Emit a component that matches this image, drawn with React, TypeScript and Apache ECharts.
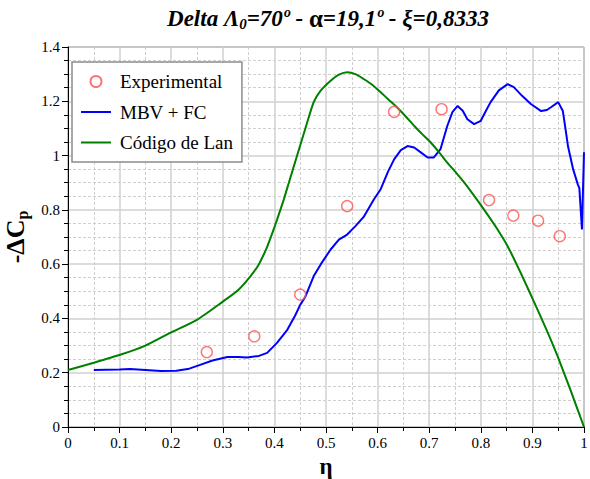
import React, { useEffect, useRef } from 'react';
import * as echarts from 'echarts';

const FONT = "'Liberation Serif', 'DejaVu Serif', serif";

// Experimental points
const expEta = [0.269, 0.361, 0.45, 0.541, 0.632, 0.724, 0.816, 0.863, 0.911, 0.953];
const expCp = [0.276, 0.334, 0.488, 0.814, 1.161, 1.171, 0.836, 0.779, 0.76, 0.703];

// MBV + FC
const mbvEta = [0.05, 0.1, 0.12, 0.15, 0.18, 0.21, 0.235, 0.256, 0.28, 0.309, 0.33, 0.347, 0.37, 0.386, 0.405, 0.425, 0.44, 0.45, 0.46, 0.476, 0.49, 0.509, 0.525, 0.541, 0.557, 0.573, 0.593, 0.606, 0.62, 0.632, 0.645, 0.658, 0.671, 0.685, 0.697, 0.709, 0.722, 0.735, 0.745, 0.755, 0.765, 0.774, 0.787, 0.8, 0.81, 0.819, 0.835, 0.852, 0.864, 0.88, 0.897, 0.917, 0.928, 0.936, 0.95, 0.959, 0.964, 0.969, 0.979, 0.988, 0.991, 0.996, 1.0];
const mbvCp = [0.21, 0.212, 0.214, 0.21, 0.206, 0.207, 0.215, 0.229, 0.245, 0.258, 0.258, 0.256, 0.262, 0.273, 0.31, 0.358, 0.41, 0.45, 0.48, 0.555, 0.6, 0.654, 0.69, 0.709, 0.74, 0.774, 0.839, 0.876, 0.94, 0.986, 1.02, 1.035, 1.03, 1.01, 0.993, 0.993, 1.024, 1.109, 1.16, 1.183, 1.165, 1.134, 1.116, 1.128, 1.165, 1.197, 1.24, 1.263, 1.252, 1.22, 1.19, 1.164, 1.168, 1.178, 1.197, 1.164, 1.1, 1.034, 0.949, 0.894, 0.88, 0.728, 1.012];

// Código de Lan
const lanEta = [0, 0.05, 0.101, 0.15, 0.198, 0.25, 0.3, 0.33, 0.353, 0.37, 0.386, 0.397, 0.405, 0.418, 0.428, 0.444, 0.46, 0.476, 0.49, 0.509, 0.525, 0.541, 0.557, 0.573, 0.59, 0.606, 0.622, 0.638, 0.655, 0.671, 0.687, 0.703, 0.72, 0.735, 0.752, 0.768, 0.784, 0.806, 0.83, 0.852, 0.878, 0.904, 0.927, 0.949, 0.975, 1.0];
const lanCp = [0.21, 0.237, 0.266, 0.3, 0.347, 0.395, 0.462, 0.505, 0.554, 0.6, 0.664, 0.72, 0.763, 0.837, 0.9, 1.0, 1.1, 1.196, 1.24, 1.276, 1.298, 1.307, 1.3, 1.282, 1.26, 1.233, 1.205, 1.177, 1.143, 1.109, 1.078, 1.048, 1.01, 0.974, 0.937, 0.9, 0.86, 0.802, 0.735, 0.666, 0.565, 0.457, 0.36, 0.26, 0.13, 0.0];

const seriesNames = ['Experimental', 'MBV + FC', 'Código de Lan'];

const zip = (a: number[], b: number[]) => a.map((v, i) => [v, b[i]]);

export default function App() {
  const ref = useRef<HTMLDivElement>(null);
  useEffect(() => {
    if (!ref.current) return;
    const chart = echarts.init(ref.current, null, { renderer: 'svg' });
    const axisCommon = {
      type: 'value' as const,
      axisLine: { show: true, onZero: false, lineStyle: { color: '#000', width: 1 } },
      axisTick: { show: true, length: 6, lineStyle: { color: '#000' } },
      minorTick: { show: true, length: 4, lineStyle: { color: '#000' } },
      splitLine: { show: true, lineStyle: { color: '#d0d0d0', width: 1.5 } },
      minorSplitLine: { show: true, lineStyle: { color: '#cfcfcf', width: 1, type: [3, 2] } },
      axisLabel: { fontFamily: FONT, fontSize: 15, color: '#000' },
    };
    chart.setOption({
      animation: false,
      backgroundColor: '#fff',
      grid: {
        left: 68, right: 6, top: 47, bottom: 52,
        outerBoundsMode: 'none',
        containLabel: false,
        show: true, borderColor: '#555', borderWidth: 1, backgroundColor: 'transparent',
      },
      graphic: [
        {
          type: 'text',
          x: 328,
          y: 18,
          style: {
            text: '{a|Delta Λ}{s|0}{a|=70º - }{g|α}{a|=19,1º - ξ=0,8333}',
            align: 'center',
            verticalAlign: 'middle',
            rich: {
              a: { fontFamily: FONT, fontSize: 23, fontWeight: 'bold', fontStyle: 'italic', fill: '#000', lineHeight: 26 },
              g: { fontFamily: FONT, fontSize: 25, fontWeight: 'bold', fill: '#000', lineHeight: 26 },
              s: { fontFamily: FONT, fontSize: 15, fontWeight: 'bold', fontStyle: 'italic', fill: '#000', lineHeight: 16, verticalAlign: 'bottom' },
            },
          },
        },
      ],
      legend: {
        orient: 'vertical',
        left: 72,
        top: 62,
        data: [
          { name: seriesNames[0] },
          { name: seriesNames[1], itemStyle: { opacity: 0 } },
          { name: seriesNames[2], itemStyle: { opacity: 0 } },
        ],
        itemWidth: 30,
        itemHeight: 11,
        itemGap: 11.5,
        padding: [10, 9, 10, 8],
        backgroundColor: '#fff',
        borderColor: '#8c8c8c',
        borderWidth: 1.5,
        borderRadius: 0,
        textStyle: { fontFamily: FONT, fontSize: 19, color: '#000', padding: [0, 0, 0, 4] },
      },
      xAxis: {
        ...axisCommon,
        min: 0,
        max: 1,
        interval: 0.1,
        minorTick: { ...axisCommon.minorTick, splitNumber: 2 },
        axisLabel: { ...axisCommon.axisLabel, margin: 8 },
        name: 'η',
        nameLocation: 'middle',
        nameGap: 28,
        nameTextStyle: { fontFamily: FONT, fontSize: 23, fontWeight: 'bold', color: '#000' },
      },
      yAxis: {
        ...axisCommon,
        min: 0,
        max: 1.4,
        interval: 0.2,
        minorTick: { ...axisCommon.minorTick, splitNumber: 4 },
        axisLabel: { ...axisCommon.axisLabel, margin: 8 },
        name: '{a|-ΔC}{s|p}',
        nameLocation: 'middle',
        nameRotate: 90,
        nameGap: 18,
        nameTextStyle: {
          rich: {
            a: { fontFamily: FONT, fontSize: 26, fontWeight: 'bold', color: '#000', lineHeight: 30 },
            s: { fontFamily: FONT, fontSize: 16, fontWeight: 'bold', color: '#000', lineHeight: 16, verticalAlign: 'bottom' },
          },
        },
      },
      series: [
        {
          name: seriesNames[0],
          type: 'scatter',
          data: zip(expEta, expCp),
          symbol: 'circle',
          symbolSize: 11,
          itemStyle: { color: 'rgba(255,255,255,0)', borderColor: '#ff5252', borderWidth: 1.4 },
          z: 3,
        },
        {
          name: seriesNames[1],
          type: 'line',
          data: zip(mbvEta, mbvCp),
          symbol: 'none',
          lineStyle: { color: '#0000ff', width: 2 },
          itemStyle: { color: '#0000ff' },
          z: 2,
        },
        {
          name: seriesNames[2],
          type: 'line',
          data: zip(lanEta, lanCp),
          symbol: 'none',
          smooth: 0.2,
          lineStyle: { color: '#008000', width: 2 },
          itemStyle: { color: '#008000' },
          z: 2,
        },
      ],
    });
    return () => chart.dispose();
  }, []);
  return <div ref={ref} style={{ position: 'fixed', left: 0, top: 0, width: 590, height: 479 }} />;
}
